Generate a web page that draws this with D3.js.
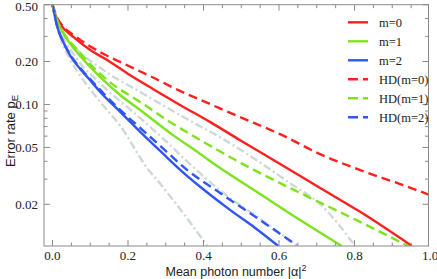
<!DOCTYPE html>
<html>
<head>
<meta charset="utf-8">
<script src="https://cdn.jsdelivr.net/npm/d3@7"></script>
<style>
  html, body { margin: 0; padding: 0; background: #fff; }
  svg { display: block; }
</style>
</head>
<body>
<div id="chart"></div>
<script>
// Error rate vs mean photon number (log y axis)

// 数据: [mean photon number, error rate]
const m0 = [[0, 0.5], [0.008, 0.421], [0.021, 0.364], [0.056, 0.296], [0.101, 0.240], [0.146, 0.204],
  [0.206, 0.160], [0.267, 0.128], [0.339, 0.0989], [0.418, 0.0752], [0.497, 0.0562], [0.603, 0.0383],
  [0.709, 0.0260], [0.815, 0.0177], [0.952, 0.0102]];
const m1 = [[0, 0.5], [0.008, 0.4145], [0.021, 0.342], [0.048, 0.2645], [0.074, 0.218], [0.1005, 0.1825],
  [0.135, 0.148], [0.180, 0.116], [0.233, 0.0912], [0.312, 0.0630], [0.392, 0.0449], [0.444, 0.0359],
  [0.550, 0.0236], [0.656, 0.0155], [0.766, 0.0102]];
const m2 = [[0, 0.5], [0.0053, 0.428], [0.0132, 0.347], [0.0265, 0.2817], [0.048, 0.2177], [0.074, 0.1766],
  [0.0952, 0.1527], [0.127, 0.1219], [0.180, 0.0884], [0.233, 0.0640], [0.286, 0.0471], [0.339, 0.0347],
  [0.392, 0.0264], [0.471, 0.0182], [0.537, 0.01365], [0.598, 0.0102]];
const hd0 = [[0, 0.5], [0.0106, 0.4145], [0.026, 0.358], [0.061, 0.300], [0.127, 0.232], [0.193, 0.191],
  [0.259, 0.158], [0.339, 0.124], [0.418, 0.1005], [0.497, 0.0815], [0.603, 0.0619], [0.709, 0.0449],
  [0.815, 0.0347], [0.921, 0.0277], [1.0, 0.0232]];
const hd1 = [[0, 0.5], [0.008, 0.421], [0.021, 0.347], [0.048, 0.2727], [0.074, 0.2285], [0.1005, 0.191],
  [0.1455, 0.148], [0.233, 0.1038], [0.312, 0.0752], [0.392, 0.0562], [0.524, 0.0359], [0.656, 0.0240],
  [0.788, 0.0163], [0.942, 0.0102]];
const hd2 = [[0, 0.5], [0.0053, 0.428], [0.0132, 0.347], [0.0265, 0.2817], [0.048, 0.2213], [0.074, 0.1794],
  [0.0952, 0.1552], [0.127, 0.1259], [0.180, 0.0912], [0.233, 0.0683], [0.286, 0.0511], [0.357, 0.0347],
  [0.444, 0.0240], [0.550, 0.0155], [0.6455, 0.01038]];
// 灰色点划线 (参考界限)
const bound1 = [[0, 0.5], [0.008, 0.3887], [0.021, 0.2908], [0.048, 0.2041], [0.082, 0.1479], [0.127, 0.1038],
  [0.180, 0.0705], [0.251, 0.0358], [0.286, 0.0277], [0.352, 0.01655], [0.410, 0.0102]];
const bound2 = [[0, 0.5], [0.021, 0.345], [0.061, 0.250], [0.127, 0.180], [0.233, 0.122], [0.384, 0.0720],
  [0.444, 0.0590], [0.524, 0.0435], [0.630, 0.0280], [0.709, 0.0200], [0.802, 0.0102]];
const bound3 = [[0, 0.5], [0.021, 0.330], [0.061, 0.215], [0.127, 0.140], [0.233, 0.0800], [0.286, 0.0600],
  [0.370, 0.0370], [0.444, 0.0250], [0.550, 0.0158], [0.650, 0.0102]];

const series = [
  { name: "m=0", data: m0, color: "#ff1f1f", dash: null },
  { name: "m=1", data: m1, color: "#7de31c", dash: null },
  { name: "m=2", data: m2, color: "#2f55f5", dash: null },
  { name: "HD(m=0)", data: hd0, color: "#ff1f1f", dash: "9,5" },
  { name: "HD(m=1)", data: hd1, color: "#7de31c", dash: "9,5" },
  { name: "HD(m=2)", data: hd2, color: "#2f55f5", dash: "9,5" }
];
const bounds = [bound1, bound2, bound3];

const xTicks = [0, 0.2, 0.4, 0.6, 0.8, 1.0];
const xMinor = d3.range(0, 1.0001, 0.05);
const yTicks = [0.5, 0.2, 0.1, 0.05, 0.02];
const yTickLabels = ["0.50", "0.20", "0.10", "0.05", "0.02"];
const yMinor = [0.4, 0.3, 0.09, 0.08, 0.07, 0.06, 0.04, 0.03];

const W = 437, H = 279;
const plot = { left: 44, right: 428.5, top: 4.7, bottom: 246 };
const axisColor = "#8a8a8a";

const svg = d3.select("#chart").append("svg")
  .attr("width", W).attr("height", H);

const x = d3.scaleLinear().domain([-0.0225, 0.996]).range([plot.left, plot.right]);
const y = d3.scaleLog().domain([0.0102, 0.5]).range([plot.bottom, plot.top]);

svg.append("clipPath").attr("id", "clip")
  .append("rect")
  .attr("x", plot.left).attr("y", plot.top)
  .attr("width", plot.right - plot.left).attr("height", plot.bottom - plot.top);

const line = d3.line()
  .x(d => x(d[0]))
  .y(d => y(d[1]))
  .curve(d3.curveMonotoneX);

const curves = svg.append("g").attr("clip-path", "url(#clip)");

// 灰色界限
bounds.forEach(b => {
  curves.append("path")
    .datum(b)
    .attr("d", line)
    .attr("fill", "none")
    .attr("stroke", "#cfd8d8")
    .attr("stroke-width", 2.4)
    .attr("stroke-dasharray", "8,3,2,3");
});

// 彩色曲线
series.forEach(s => {
  curves.append("path")
    .datum(s.data)
    .attr("d", line)
    .attr("fill", "none")
    .attr("stroke", s.color)
    .attr("stroke-width", 2.4)
    .attr("stroke-dasharray", s.dash);
});

// 坐标框
svg.append("rect")
  .attr("x", plot.left).attr("y", plot.top)
  .attr("width", plot.right - plot.left).attr("height", plot.bottom - plot.top)
  .attr("fill", "none")
  .attr("stroke", axisColor)
  .attr("stroke-width", 1);

const ticks = svg.append("g")
  .attr("stroke", axisColor)
  .attr("stroke-width", 1);

// x 刻度 (上下)
xMinor.forEach(v => {
  const major = xTicks.some(t => Math.abs(t - v) < 1e-6);
  const len = major ? 6 : 3.5;
  const px = x(v);
  if (px > plot.right) return;
  ticks.append("line").attr("x1", px).attr("x2", px)
    .attr("y1", plot.bottom).attr("y2", plot.bottom - len);
  ticks.append("line").attr("x1", px).attr("x2", px)
    .attr("y1", plot.top).attr("y2", plot.top + len);
});

// y 刻度 (左右)
yTicks.concat(yMinor).forEach(v => {
  const major = yTicks.includes(v);
  const len = major ? 6 : 3.5;
  const py = y(v);
  ticks.append("line").attr("x1", plot.left).attr("x2", plot.left + len)
    .attr("y1", py).attr("y2", py);
  ticks.append("line").attr("x1", plot.right).attr("x2", plot.right - len)
    .attr("y1", py).attr("y2", py);
});

// 刻度标签
const serif = "'Liberation Serif', 'DejaVu Serif', serif";
const sans = "'Liberation Sans', Arial, sans-serif";

svg.append("g").selectAll("text")
  .data(xTicks)
  .enter().append("text")
  .attr("x", d => x(d))
  .attr("y", 260)
  .attr("text-anchor", "middle")
  .style("font-family", serif)
  .style("font-size", "13px")
  .style("fill", "#222")
  .text(d => d.toFixed(1));

svg.append("g").selectAll("text")
  .data(yTicks)
  .enter().append("text")
  .attr("x", 38)
  .attr("y", d => Math.max(y(d) + 4.5, 11))
  .attr("text-anchor", "end")
  .style("font-family", serif)
  .style("font-size", "13px")
  .style("fill", "#222")
  .text((d, i) => yTickLabels[i]);

// 轴标题
const xLabel = svg.append("text")
  .attr("x", 236).attr("y", 276)
  .attr("text-anchor", "middle")
  .style("font-family", sans)
  .style("font-size", "12.5px")
  .style("fill", "#222");
xLabel.append("tspan").text("Mean photon number |α|");
xLabel.append("tspan").attr("dy", -5).style("font-size", "9px").text("2");

const yLabel = svg.append("text")
  .attr("transform", "translate(15,131) rotate(-90)")
  .attr("text-anchor", "middle")
  .style("font-family", sans)
  .style("font-size", "13px")
  .style("fill", "#222");
yLabel.append("tspan").text("Error rate p");
yLabel.append("tspan").attr("dy", 3).style("font-size", "9.5px").text("E");

// 图例
const legend = svg.append("g");
series.forEach((s, i) => {
  const ly = 22.3 + i * 19;
  legend.append("line")
    .attr("x1", 348).attr("x2", 368)
    .attr("y1", ly).attr("y2", ly)
    .attr("stroke", s.color)
    .attr("stroke-width", 2.4)
    .attr("stroke-dasharray", s.dash ? "10,5" : null);
  legend.append("text")
    .attr("x", 379).attr("y", ly + 4.5)
    .style("font-family", serif)
    .style("font-size", "12.5px")
    .style("fill", "#222")
    .text(s.name);
});
</script>
</body>
</html>
